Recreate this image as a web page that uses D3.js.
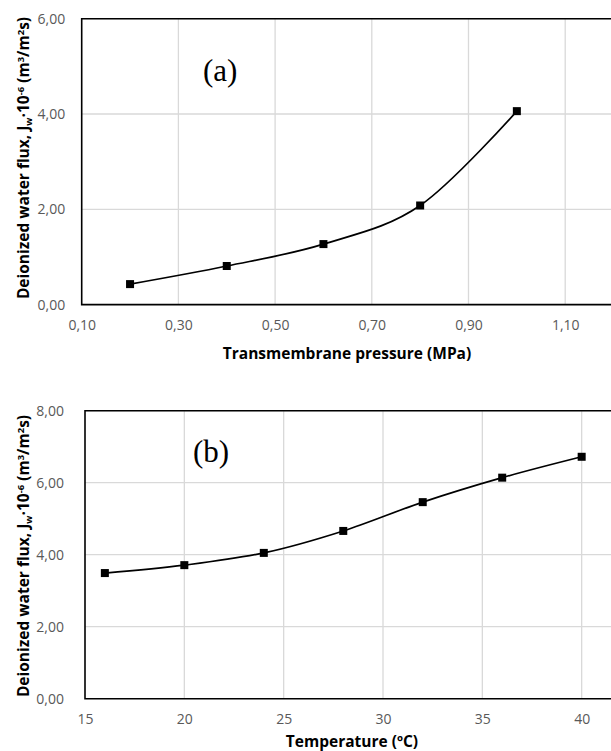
<!DOCTYPE html>
<meta charset="utf-8" />
<style>
  body { margin: 0; background: white; overflow: hidden; }
  svg { font-family: "Open Sans", sans-serif; }
  .grid line { stroke: #d9d9d9; stroke-width: 1.3; }
  .atitle { font-weight: bold; font-size: 15.5px; fill: #000; }
  .panel { font-family: "Liberation Serif", serif; font-size: 31px; }
</style>
<body>
<svg id="chart" width="611" height="751"></svg>
<script src="https://d3js.org/d3.v7.min.js"></script>
<script>
// (a) pressure
var pressure = [0.2, 0.4, 0.6, 0.8, 1.0];
var fluxA = [0.43, 0.81, 1.27, 2.08, 4.06];
var xTicksA = [0.1, 0.3, 0.5, 0.7, 0.9, 1.1];
var yTicksA = [0, 2, 4, 6];

// (b) temperature
var temperature = [16, 20, 24, 28, 32, 36, 40];
var fluxB = [3.49, 3.71, 4.05, 4.66, 5.46, 6.14, 6.72];
var xTicksB = [15, 20, 25, 30, 35, 40];
var yTicksB = [0, 2, 4, 6, 8];

var svg = d3.select("#chart");
var comma = function(f) { return function(d) { return d3.format(f)(d).replace(".", ","); }; };

function styleTicks(sel) {
  sel.select(".domain").remove();
  sel.attr("font-family", "'Open Sans', sans-serif").attr("font-size", 14);
  sel.selectAll("text").attr("fill", "#595959");
}

function panel(o) {
  var x = d3.scaleLinear().domain(o.xd).range([o.left, o.right]);
  var y = d3.scaleLinear().domain(o.yd).range([o.bottom, o.top]);
  var g = svg.append("g");

  // gridlines
  g.append("g").attr("class", "grid")
    .selectAll("line").data(o.yt.slice(1)).enter().append("line")
    .attr("x1", o.left).attr("x2", o.right).attr("y1", d => y(d)).attr("y2", d => y(d));
  g.append("g").attr("class", "grid")
    .selectAll("line").data(o.xt.slice(1)).enter().append("line")
    .attr("y1", o.top).attr("y2", o.bottom).attr("x1", d => x(d)).attr("x2", d => x(d));

  // frame
  g.append("path")
    .attr("d", "M" + o.right + "," + o.top + "H" + o.left + "V" + o.bottom + "H" + o.right)
    .attr("fill", "none").attr("stroke", "#000").attr("stroke-width", 1.6);

  g.append("g").attr("transform", "translate(0," + o.bottom + ")")
    .call(d3.axisBottom(x).tickValues(o.xt).tickFormat(o.xf).tickSize(0).tickPadding(o.xpad))
    .call(styleTicks);
  g.append("g").attr("transform", "translate(" + o.left + ",0)")
    .call(d3.axisLeft(y).tickValues(o.yt).tickFormat(comma(".2f")).tickSize(0).tickPadding(o.ypad))
    .call(styleTicks);

  var line = d3.line().x(d => x(d[0])).y(d => y(d[1])).curve(d3.curveCatmullRom.alpha(0));
  var pts = o.xs.map((d, i) => [d, o.ys[i]]);
  g.append("path").datum(pts).attr("d", line)
    .attr("fill", "none").attr("stroke", "#000").attr("stroke-width", 1.7);
  g.selectAll("rect.m").data(pts).enter().append("rect")
    .attr("x", d => x(d[0]) - 4).attr("y", d => y(d[1]) - 4)
    .attr("width", 8).attr("height", 8).attr("fill", "#000");

  g.append("text").attr("class", "atitle").attr("text-anchor", "middle")
    .attr("x", o.xtitleX).attr("y", o.xtitleY).text(o.xtitle);

  var yt = g.append("text").attr("class", "atitle").attr("text-anchor", "middle")
    .attr("transform", "translate(29," + o.ytitleY + ") rotate(-90)");
  yt.append("tspan").text("Deionized water flux, J");
  yt.append("tspan").attr("dy", 3).attr("font-size", "9.5px").text("w");
  yt.append("tspan").attr("dy", -3).text("·10");
  yt.append("tspan").attr("dy", -5).attr("font-size", "9.5px").text("-6");
  yt.append("tspan").attr("dy", 5).text(" (m");
  yt.append("tspan").attr("dy", -5).attr("font-size", "9.5px").text("3");
  yt.append("tspan").attr("dy", 5).text("/m");
  yt.append("tspan").attr("dy", -5).attr("font-size", "9.5px").text("2");
  yt.append("tspan").attr("dy", 5).text("s)");

  svg.append("text").attr("class", "panel").attr("x", o.lx).attr("y", o.ly).text(o.label);
}

panel({
  left: 81.7, right: 661.9, top: 18.7, bottom: 304.6,
  xd: [0.1, 1.3], yd: [0, 6], xt: xTicksA, yt: yTicksA,
  xs: pressure, ys: fluxA, xf: comma(".2f"), xpad: 15.5, ypad: 16.5,
  xtitle: "Transmembrane pressure (MPa)", xtitleX: 347, xtitleY: 359,
  ytitleY: 158,
  label: "(a)", lx: 203, ly: 81
});

panel({
  left: 85, right: 681, top: 410.7, bottom: 698.7,
  xd: [15, 45], yd: [0, 8], xt: xTicksB, yt: yTicksB,
  xs: temperature, ys: fluxB, xf: d3.format("d"), xpad: 15, ypad: 21,
  xtitle: "Temperature (ºC)", xtitleX: 352, xtitleY: 747,
  ytitleY: 556,
  label: "(b)", lx: 193, ly: 462
});
</script>
</body>
